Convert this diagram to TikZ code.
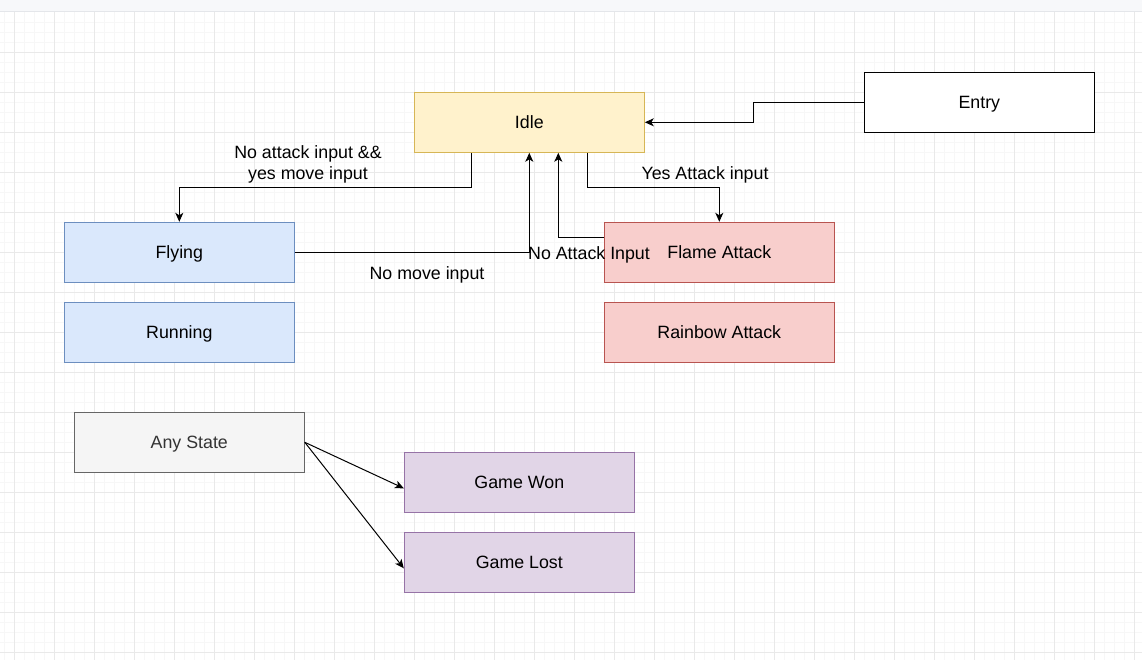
\documentclass[tikz,border=0pt]{standalone}
\usepackage{fontspec}
\setmainfont{Liberation Sans}
\usepackage{xcolor}
\usetikzlibrary{arrows.meta,positioning,calc}
\definecolor{idlefill}{HTML}{FFF2CC}
\definecolor{idleline}{HTML}{D6B656}
\definecolor{moveblue}{HTML}{DAE8FC}
\definecolor{movebline}{HTML}{6C8EBF}
\definecolor{attackred}{HTML}{F8CECC}
\definecolor{attackline}{HTML}{B85450}
\definecolor{anyfill}{HTML}{F5F5F5}
\definecolor{anyline}{HTML}{666666}
\definecolor{anytext}{HTML}{333333}
\definecolor{endpurple}{HTML}{E1D5E7}
\definecolor{endline}{HTML}{9673A6}
\definecolor{gridmajor}{HTML}{E9E9E9}
\definecolor{gridminor}{HTML}{F7F7F7}
\definecolor{topbar}{HTML}{F7F8FA}
\definecolor{topbarline}{HTML}{E4E6EA}

\begin{document}
\begin{tikzpicture}[x=1pt, y=-1pt,
	state/.style={draw, rectangle, line width=1pt, minimum width=230pt, minimum height=60pt, inner sep=0pt, text height=17pt, text depth=4pt, font=\fontsize{17.8}{21}\selectfont},
	lbl/.style={inner sep=0pt, align=center, font=\fontsize{17.8}{21}\selectfont},
	trans/.style={line width=1pt, -{Stealth[length=9pt, width=8pt, inset=2.5pt]}}]
	\useasboundingbox (0,0) rectangle (1142,660);
	% Canvas grid
	\fill[white] (0,0) rectangle (1142,660);
	\foreach \gx in {4.3,14.3,...,1142} \draw[gridminor, line width=0.8pt] (\gx,12) -- (\gx,660);
	\foreach \gy in {22.3,32.3,...,660} \draw[gridminor, line width=0.8pt] (0,\gy) -- (1142,\gy);
	\foreach \gx in {14.3,54.3,...,1142} \draw[gridmajor, line width=1pt] (\gx,12) -- (\gx,660);
	\foreach \gy in {52.3,92.3,...,660} \draw[gridmajor, line width=1pt] (0,\gy) -- (1142,\gy);
	\fill[topbar] (0,0) rectangle (1142,11.5);
	\draw[topbarline] (0,11.5) -- (1142,11.5);
	
	% States
	\node[state, fill=idlefill, draw=idleline] (idle) at (529.3,122.3) {Idle};
	\node[state, fill=white, draw=black] (entry) at (979.3,102.3) {Entry};
	\node[state, fill=moveblue, draw=movebline] (flying) at (179.3,252.3) {Flying};
	\node[state, fill=moveblue, draw=movebline] (running) at (179.3,332.3) {Running};
	\node[state, fill=attackred, draw=attackline] (flame) at (719.3,252.3) {Flame Attack};
	\node[state, fill=attackred, draw=attackline] (rainbow) at (719.3,332.3) {Rainbow Attack};
	\node[state, fill=anyfill, draw=anyline, text=anytext] (anystate) at (189.3,442.3) {Any State};
	\node[state, fill=endpurple, draw=endline] (gamewon) at (519.3,482.3) {Game Won};
	\node[state, fill=endpurple, draw=endline] (gamelost) at (519.3,562.3) {Game Lost};
	
	% Transitions
	\draw[trans] (entry.west) -- ++(-110,0) |- (idle.east);
	\draw[trans] ([xshift=58pt]idle.south west) -- ++(0,35) -| (flying.north);
	\draw[trans] (flying.east) -| (idle.south);
	\draw[trans] ([xshift=-57pt]idle.south east) -- ++(0,35) -| (flame.north);
	\draw[trans] ([yshift=15pt]flame.west) -| ([xshift=29pt]idle.south);
	\draw[trans] (anystate.east) -- ([yshift=-6pt]gamewon.west);
	\draw[trans] (anystate.east) -- ([yshift=-6pt]gamelost.west);
	
	% Transition labels
	\node[lbl] (lblmove) at (308,164) {No attack input \&\&\\yes move input};
	\node[lbl] (lblnomove) at (427,275) {No move input};
	\node[lbl] (lblattack) at (705,175) {Yes Attack input};
	\node[lbl] (lblnoattack) at (589,255) {No Attack Input};
\end{tikzpicture}
\end{document}
